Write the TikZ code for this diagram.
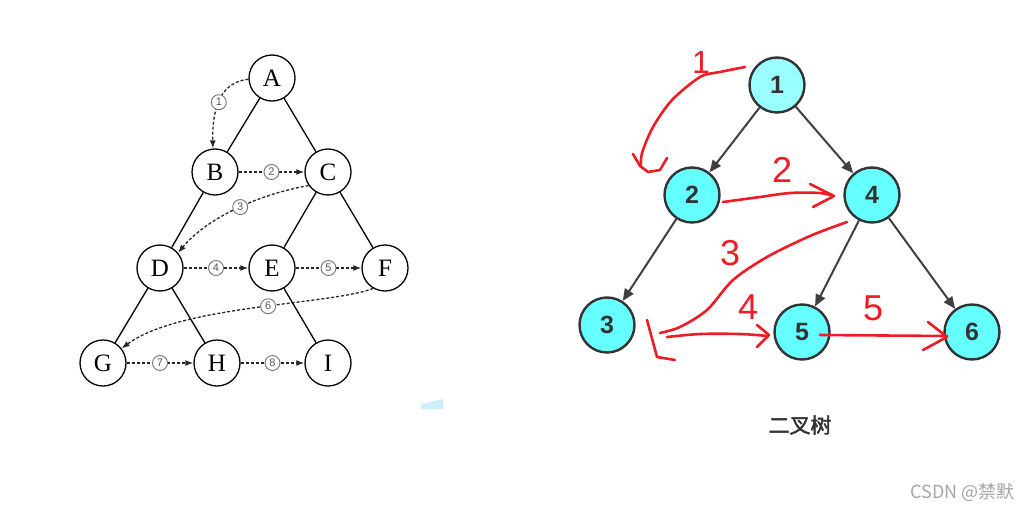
\documentclass[tikz,border=0pt]{standalone}
\usepackage{fontspec}
\setmainfont{Liberation Serif}
\newfontfamily\sansf{Liberation Sans}
\newfontfamily\cjkf{Noto Sans CJK SC}
\newfontfamily\cjkb[AutoFakeBold=2]{Noto Sans CJK SC}
\usetikzlibrary{arrows.meta}
\definecolor{cyanA}{HTML}{99FFFF}
\definecolor{cyanB}{HTML}{66FFFF}
\definecolor{handred}{HTML}{EE1C24}
\definecolor{artblue}{HTML}{CCEEFF}
\begin{document}
\begin{tikzpicture}[x=1pt,y=-1pt,
  lnode/.style={circle,draw=black,line width=1.3pt,minimum size=46pt,inner sep=0pt,fill=white,font=\fontsize{25}{25}\selectfont},
  tedge/.style={line width=1.3pt},
  trav/.style={line width=1.3pt,draw=black!85,dash pattern=on 3pt off 2pt,-{Latex[length=8pt,width=6pt]}},
  clab/.style={circle,solid,draw=black!55,fill=white,text=black!65,line width=0.9pt,inner sep=0pt,minimum size=15pt,font=\sansf\fontsize{11}{11}\selectfont},
  rnode/.style={circle,draw=black!80,line width=2.4pt,minimum size=55pt,inner sep=0pt,fill=cyanB,font=\sansf\bfseries\fontsize{25}{25}\selectfont,text=black!80},
  redge/.style={line width=2pt,draw=black!75,-{Triangle[length=12pt,width=10pt]}},
  hand/.style={draw=handred,line width=2.6pt,line cap=round,line join=round},
  handnum/.style={text=handred,font=\sansf\fontsize{36}{36}\selectfont,inner sep=0pt}
]
\fill[white] (0,0) rectangle (1022,511);
\useasboundingbox (0,0) rectangle (1022,511);

% ---------- left tree ----------
\node[lnode] (A) at (272,78) {A};
\node[lnode] (B) at (215,172) {B};
\node[lnode] (C) at (328,172) {C};
\node[lnode] (D) at (160,268) {D};
\node[lnode] (E) at (272,268) {E};
\node[lnode] (F) at (385,268) {F};
\node[lnode] (G) at (103,363) {G};
\node[lnode] (H) at (217,363) {H};
\node[lnode] (I) at (328,363) {I};

\draw[tedge] (A) -- (B);
\draw[tedge] (A) -- (C);
\draw[tedge] (B) -- (D);
\draw[tedge] (C) -- (E);
\draw[tedge] (C) -- (F);
\draw[tedge] (D) -- (G);
\draw[tedge] (D) -- (H);
\draw[tedge] (E) -- (I);

\draw[trav] (A.183) .. controls (222,82) and (212,105) .. node[clab,pos=0.55] {1} (B.95);
\draw[trav] (B) -- node[clab] {2} (C);
\draw[trav] (C.215) .. controls (255,195) and (205,220) .. node[clab,pos=0.45] {3} (D.40);
\draw[trav] (D) -- node[clab] {4} (E);
\draw[trav] (E) -- node[clab] {5} (F);
\draw[trav] (F.240) .. controls (330,305) and (180,305) .. node[clab,pos=0.45] {6} (G.38);
\draw[trav] (G) -- node[clab] {7} (H);
\draw[trav] (H) -- node[clab] {8} (I);

\fill[artblue] (421,404) -- (443,399) -- (443,409) -- (421,409) -- cycle;

% ---------- right tree ----------
\node[rnode,fill=cyanA] (n1) at (777,85) {1};
\node[rnode] (n2) at (692,195) {2};
\node[rnode] (n4) at (872,195) {4};
\node[rnode] (n3) at (607,325) {3};
\node[rnode] (n5) at (802,332) {5};
\node[rnode] (n6) at (972,332) {6};

\draw[redge] (n1) -- (n2);
\draw[redge] (n1) -- (n4);
\draw[redge] (n2) -- (n3);
\draw[redge] (n4) -- (n5);
\draw[redge] (n4) -- (n6);

% ---------- red hand strokes ----------
\draw[hand] plot[smooth] coordinates {(745,67) (720,72) (700,77) (672,100) (653,127) (642,153) (641,167)};
\draw[hand] (633,154) -- (640,166) -- (648,172) -- (660,170) -- (667,158);
\draw[hand] plot[smooth] coordinates {(723,202) (760,197) (790,193) (820,193) (833,196)};
\draw[hand] (810,184) -- (834,196) -- (813,207);
\draw[hand] plot[smooth] coordinates {(847,222) (810,236) (767,257) (733,280) (707,310) (680,327) (660,333)};
\draw[hand] (647,320) -- (657,357) -- (675,360);
\draw[hand] plot[smooth] coordinates {(667,337) (700,334) (740,334) (768,336)};
\draw[hand] (757,325) -- (769,335) -- (757,347);
\draw[hand] (820,335) -- (947,336);
\draw[hand] (928,322) -- (947,337) -- (923,350);

\node[handnum,font=\sansf\fontsize{32}{32}\selectfont] (h1) at (701,62) {1};
\node[handnum] (h2) at (782,170) {2};
\node[handnum] (h3) at (730,253) {3};
\node[handnum] (h4) at (748,307) {4};
\node[handnum] (h5) at (873,308) {5};

% ---------- captions ----------
\node[font=\cjkb\bfseries\fontsize{21}{21}\selectfont,text=black!80] (cap) at (800,425) {二叉树};
\node[font=\cjkf\fontsize{18}{18}\selectfont,text=black!35,anchor=east] (wm) at (1018,492) {CSDN @禁默};
\end{tikzpicture}
\end{document}
